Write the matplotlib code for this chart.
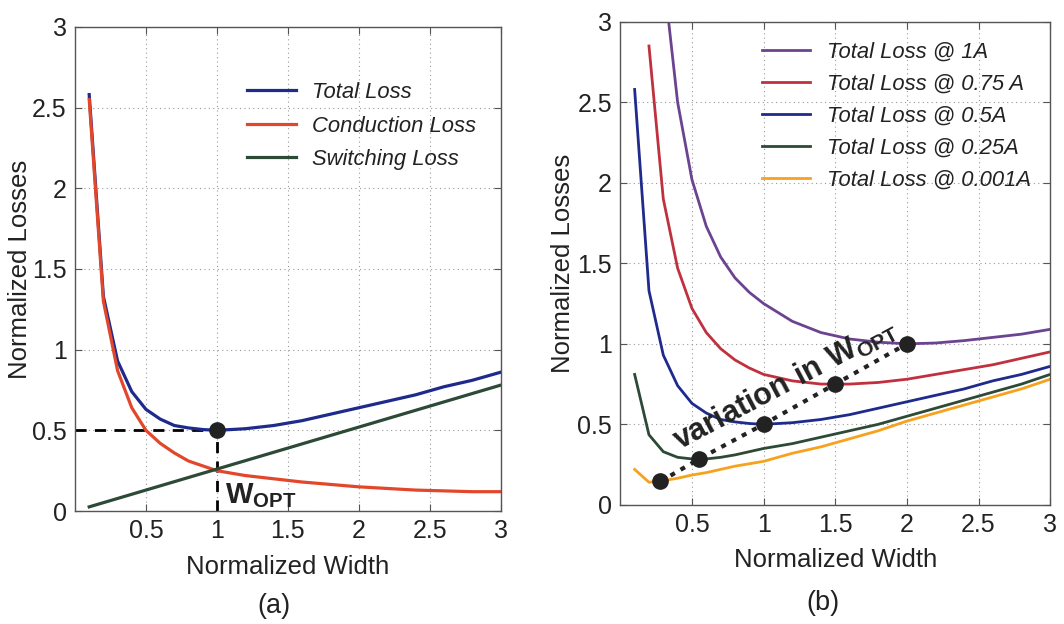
import matplotlib
matplotlib.use("Agg")
import matplotlib.pyplot as plt
import numpy as np

plt.rcParams['font.family'] = ['Liberation Sans', 'DejaVu Sans']
plt.rcParams['mathtext.fontset'] = 'custom'
plt.rcParams['mathtext.rm'] = 'Liberation Sans'
plt.rcParams['mathtext.bf'] = 'Liberation Sans:bold'

# Breite (normiert)
width = [0.1, 0.2, 0.3, 0.4, 0.5, 0.6, 0.7, 0.8, 0.9, 1.0,
         1.2, 1.4, 1.6, 1.8, 2.0, 2.2, 2.4, 2.6, 2.8, 3.0]

# Verluste (a)
total_loss = [2.58, 1.33, 0.93, 0.74, 0.63, 0.57, 0.53, 0.515, 0.505, 0.50,
              0.51, 0.53, 0.56, 0.60, 0.64, 0.68, 0.72, 0.77, 0.81, 0.86]
conduction_loss = [2.55, 1.30, 0.87, 0.64, 0.50, 0.42, 0.36, 0.31, 0.28, 0.25,
                   0.22, 0.20, 0.18, 0.165, 0.15, 0.14, 0.13, 0.125, 0.12, 0.12]
switching_loss = [0.026, 0.052, 0.078, 0.104, 0.13, 0.156, 0.182, 0.208, 0.234, 0.26,
                  0.312, 0.364, 0.416, 0.468, 0.52, 0.572, 0.624, 0.676, 0.728, 0.78]

# Verluste (b), verschiedene Ströme
nan = np.nan
loss_1A = [nan, nan, 3.30, 2.50, 2.02, 1.73, 1.54, 1.41, 1.32, 1.25,
           1.14, 1.07, 1.03, 1.01, 1.00, 1.005, 1.02, 1.04, 1.06, 1.09]
loss_075A = [nan, 2.85, 1.90, 1.47, 1.22, 1.07, 0.97, 0.90, 0.85, 0.81,
             0.77, 0.75, 0.75, 0.76, 0.78, 0.81, 0.84, 0.87, 0.91, 0.95]
loss_05A = total_loss
loss_025A = [0.81, 0.435, 0.33, 0.295, 0.285, 0.285, 0.295, 0.31, 0.33, 0.35,
             0.38, 0.42, 0.46, 0.50, 0.55, 0.60, 0.65, 0.70, 0.75, 0.81]
loss_0001A = [0.22, 0.14, 0.15, 0.165, 0.185, 0.20, 0.22, 0.24, 0.255, 0.27,
              0.32, 0.36, 0.41, 0.46, 0.52, 0.57, 0.62, 0.67, 0.72, 0.78]

# Optimale Breiten
w_opt = [0.28, 0.55, 1.0, 1.5, 2.0]
loss_opt = [0.145, 0.285, 0.50, 0.75, 1.0]

labels_b = ['Total Loss @ 1A', 'Total Loss @ 0.75 A', 'Total Loss @ 0.5A',
            'Total Loss @ 0.25A', 'Total Loss @ 0.001A']
colors_b = ['#6b4390', '#c0303e', '#1e2a8c', '#2c4a36', '#f7a21e']

x_ticks = [0.5, 1, 1.5, 2, 2.5, 3]
x_ticklabels = ['0.5', '1', '1.5', '2', '2.5', '3']
y_ticks = [0, 0.5, 1, 1.5, 2, 2.5, 3]
y_ticklabels = ['0', '0.5', '1', '1.5', '2', '2.5', '3']

fig = plt.figure(figsize=(10.64, 6.24), dpi=100)
ax1 = fig.add_axes([0.0705, 0.181, 0.400, 0.776])
ax2 = fig.add_axes([0.583, 0.191, 0.404, 0.774])


def style_axes(ax, ylab_x):
    ax.set_xlim(0, 3)
    ax.set_ylim(0, 3)
    ax.set_xticks(x_ticks)
    ax.set_xticklabels(x_ticklabels)
    ax.set_yticks(y_ticks)
    ax.set_yticklabels(y_ticklabels)
    ax.grid(True, linestyle=(0, (1, 3)), color='#999999', linewidth=0.8)
    ax.tick_params(direction='in', top=True, right=True, labelsize=18,
                   length=5, color='#555555', pad=6, labelcolor='#222222')
    for s in ax.spines.values():
        s.set_color('#555555')
        s.set_linewidth(1.0)
    ax.set_xlabel('Normalized Width', fontsize=18.5, color='#222222', labelpad=8)
    ax.set_ylabel('Normalized Losses', fontsize=18.5, color='#222222')
    ax.yaxis.set_label_coords(ylab_x, 0.5)


# (a)
style_axes(ax1, -0.102)
ax1.plot([0, 1], [0.5, 0.5], '--', color='black', lw=2.0, dashes=(4, 3))
ax1.plot([1, 1], [0, 0.5], '--', color='black', lw=2.0, dashes=(4, 3))
ax1.plot(width, total_loss, color='#1e2a8c', lw=2.3, label='Total Loss')
ax1.plot(width, conduction_loss, color='#e2472c', lw=2.3, label='Conduction Loss')
ax1.plot(width, switching_loss, color='#2c4a36', lw=2.3, label='Switching Loss')
ax1.plot([1.0], [0.5], 'o', color='#222222', markersize=11)
ax1.text(1.06, 0.05, r'$\mathbf{W_{OPT}}$', fontsize=21, color='#222222')
ax1.legend(loc='upper left', bbox_to_anchor=(0.405, 0.886), frameon=False,
           prop={'style': 'italic', 'size': 15.8}, handlelength=2.2,
           handletextpad=0.75, labelspacing=0.57, borderpad=0, borderaxespad=0,
           labelcolor='#222222')
fig.text(0.257, 0.018, '(a)', fontsize=19.5, ha='center', color='#222222')

# (b)
style_axes(ax2, -0.106)
series_b = [loss_1A, loss_075A, loss_05A, loss_025A, loss_0001A]
for vals, lab, col in zip(series_b, labels_b, colors_b):
    ax2.plot(width, vals, color=col, lw=2.0, label=lab)
ax2.plot(w_opt, loss_opt, ':', color='#222222', lw=3.0, dashes=(1.2, 1.6))
ax2.plot(w_opt, loss_opt, 'o', color='#222222', markersize=11, linestyle='none')
ax2.text(1.15, 0.75, r'$\mathbf{variation\ in\ W_{OPT}}$', fontsize=22,
         rotation=28, ha='center', va='center', rotation_mode='anchor',
         color='#222222')
ax2.legend(loc='upper left', bbox_to_anchor=(0.33, 0.958), frameon=False,
           prop={'style': 'italic', 'size': 15.8}, handlelength=2.2,
           handletextpad=0.75, labelspacing=0.5, borderpad=0, borderaxespad=0,
           labelcolor='#222222')
fig.text(0.773, 0.022, '(b)', fontsize=19.5, ha='center', color='#222222')

fig.savefig('out.png', dpi=100)
